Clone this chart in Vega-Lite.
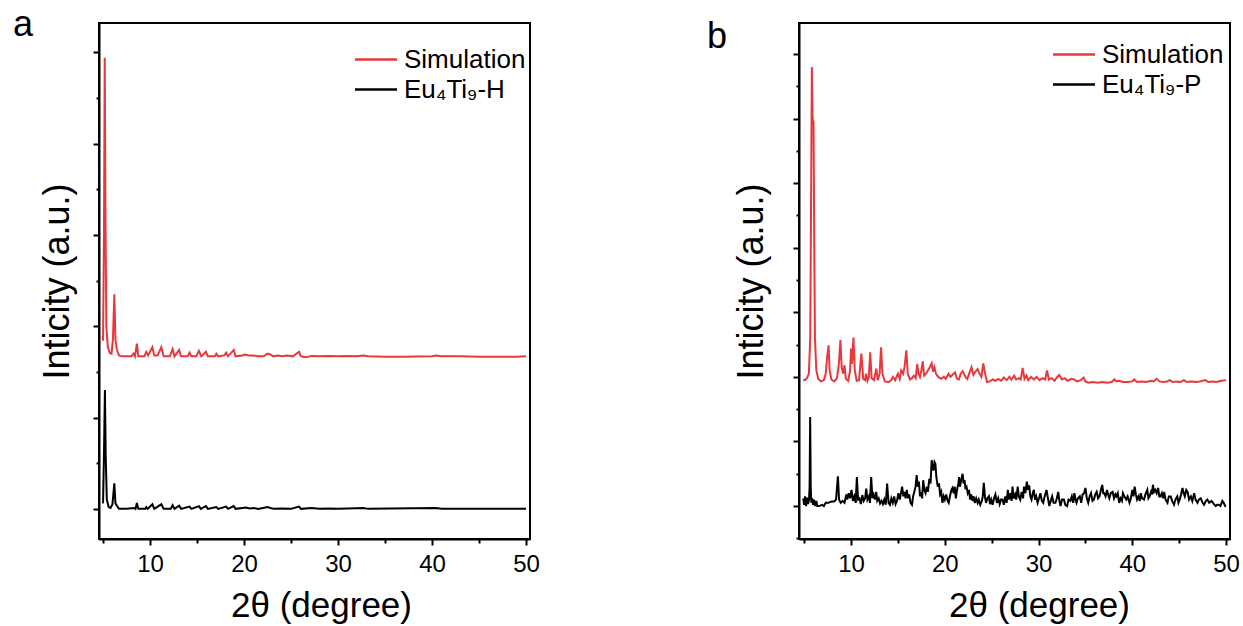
{
  "$schema": "https://vega.github.io/schema/vega-lite/v6.json",
  "padding": {"left": 12, "top": 6, "right": 0, "bottom": 0},
  "background": "white",
  "bounds": "flush",
  "spacing": 269,
  "config": {
    "font": "Liberation Sans",
    "view": {"stroke": "#000000", "strokeWidth": 2},
    "axis": {"domainColor": "#000000", "domainWidth": 2, "tickColor": "#000000", "tickWidth": 2, "grid": false, "labelColor": "#000000", "titleColor": "#000000", "labelFont": "Liberation Sans", "titleFont": "Liberation Sans", "titleFontWeight": "normal", "labelFontSize": 24, "titleFontSize": 35, "labelOverlap": false, "labelFlush": false},
    "legend": {"title": null, "orient": "none", "symbolType": "M-2.625,0H2.625", "symbolSize": 256, "symbolStrokeWidth": 2.5, "labelFontSize": 26, "labelFont": "Liberation Sans", "labelColor": "#000000", "labelOffset": 15, "rowPadding": 4, "padding": 0},
    "title": {"font": "Liberation Sans", "fontSize": 36, "fontWeight": "normal", "color": "#000000", "anchor": "start", "frame": "group", "baseline": "alphabetic"}
  },
  "datasets": {
    "panelA": [
      {"angle":5.0,"intensity":1.84,"series":"Simulation"},{"angle":5.1,"intensity":3.0,"series":"Simulation"},{"angle":5.18,"intensity":4.94,"series":"Simulation"},{"angle":5.26,"intensity":3.2,"series":"Simulation"},{"angle":5.35,"intensity":2.0,"series":"Simulation"},{"angle":5.5,"intensity":1.78,"series":"Simulation"},{"angle":5.7,"intensity":1.71,"series":"Simulation"},{"angle":5.9,"intensity":1.70,"series":"Simulation"},{"angle":6.05,"intensity":1.85,"series":"Simulation"},{"angle":6.2,"intensity":2.35,"series":"Simulation"},{"angle":6.32,"intensity":1.85,"series":"Simulation"},{"angle":6.45,"intensity":1.76,"series":"Simulation"},{"angle":6.55,"intensity":1.72,"series":"Simulation"},{"angle":6.7,"intensity":1.68,"series":"Simulation"},{"angle":7.0,"intensity":1.67,"series":"Simulation"},{"angle":7.5,"intensity":1.67,"series":"Simulation"},{"angle":8.0,"intensity":1.67,"series":"Simulation"},{"angle":8.25,"intensity":1.70,"series":"Simulation"},{"angle":8.4,"intensity":1.67,"series":"Simulation"},{"angle":8.6,"intensity":1.81,"series":"Simulation"},{"angle":8.75,"intensity":1.67,"series":"Simulation"},{"angle":9.4,"intensity":1.67,"series":"Simulation"},{"angle":9.6,"intensity":1.72,"series":"Simulation"},{"angle":9.8,"intensity":1.68,"series":"Simulation"},{"angle":10.25,"intensity":1.77,"series":"Simulation"},{"angle":10.45,"intensity":1.68,"series":"Simulation"},{"angle":10.8,"intensity":1.68,"series":"Simulation"},{"angle":11.2,"intensity":1.77,"series":"Simulation"},{"angle":11.45,"intensity":1.67,"series":"Simulation"},{"angle":12.1,"intensity":1.67,"series":"Simulation"},{"angle":12.4,"intensity":1.75,"series":"Simulation"},{"angle":12.6,"intensity":1.67,"series":"Simulation"},{"angle":13.1,"intensity":1.74,"series":"Simulation"},{"angle":13.3,"intensity":1.67,"series":"Simulation"},{"angle":14.0,"intensity":1.67,"series":"Simulation"},{"angle":14.2,"intensity":1.71,"series":"Simulation"},{"angle":14.4,"intensity":1.67,"series":"Simulation"},{"angle":14.9,"intensity":1.67,"series":"Simulation"},{"angle":15.2,"intensity":1.73,"series":"Simulation"},{"angle":15.45,"intensity":1.67,"series":"Simulation"},{"angle":15.95,"intensity":1.72,"series":"Simulation"},{"angle":16.15,"intensity":1.67,"series":"Simulation"},{"angle":16.9,"intensity":1.67,"series":"Simulation"},{"angle":17.05,"intensity":1.70,"series":"Simulation"},{"angle":17.25,"intensity":1.67,"series":"Simulation"},{"angle":17.9,"intensity":1.68,"series":"Simulation"},{"angle":18.1,"intensity":1.71,"series":"Simulation"},{"angle":18.3,"intensity":1.67,"series":"Simulation"},{"angle":18.9,"intensity":1.74,"series":"Simulation"},{"angle":19.1,"intensity":1.67,"series":"Simulation"},{"angle":19.8,"intensity":1.68,"series":"Simulation"},{"angle":20.1,"intensity":1.69,"series":"Simulation"},{"angle":20.5,"intensity":1.68,"series":"Simulation"},{"angle":21.0,"intensity":1.68,"series":"Simulation"},{"angle":21.5,"intensity":1.67,"series":"Simulation"},{"angle":22.1,"intensity":1.67,"series":"Simulation"},{"angle":22.5,"intensity":1.70,"series":"Simulation"},{"angle":22.8,"intensity":1.69,"series":"Simulation"},{"angle":23.1,"intensity":1.67,"series":"Simulation"},{"angle":23.6,"intensity":1.68,"series":"Simulation"},{"angle":24.1,"intensity":1.67,"series":"Simulation"},{"angle":24.6,"intensity":1.68,"series":"Simulation"},{"angle":25.2,"intensity":1.67,"series":"Simulation"},{"angle":25.85,"intensity":1.72,"series":"Simulation"},{"angle":26.05,"intensity":1.67,"series":"Simulation"},{"angle":26.6,"intensity":1.66,"series":"Simulation"},{"angle":27.2,"intensity":1.675,"series":"Simulation"},{"angle":28.0,"intensity":1.67,"series":"Simulation"},{"angle":29.0,"intensity":1.675,"series":"Simulation"},{"angle":30.0,"intensity":1.67,"series":"Simulation"},{"angle":31.0,"intensity":1.675,"series":"Simulation"},{"angle":32.0,"intensity":1.67,"series":"Simulation"},{"angle":32.7,"intensity":1.68,"series":"Simulation"},{"angle":33.2,"intensity":1.67,"series":"Simulation"},{"angle":35.0,"intensity":1.665,"series":"Simulation"},{"angle":37.0,"intensity":1.665,"series":"Simulation"},{"angle":40.0,"intensity":1.67,"series":"Simulation"},{"angle":40.4,"intensity":1.68,"series":"Simulation"},{"angle":41.0,"intensity":1.67,"series":"Simulation"},{"angle":43.0,"intensity":1.67,"series":"Simulation"},{"angle":45.0,"intensity":1.665,"series":"Simulation"},{"angle":47.0,"intensity":1.665,"series":"Simulation"},{"angle":49.0,"intensity":1.665,"series":"Simulation"},{"angle":50.0,"intensity":1.67,"series":"Simulation"},
      {"angle":5.0,"intensity":0.06,"series":"Eu₄Ti₉-H"},{"angle":5.1,"intensity":0.6,"series":"Eu₄Ti₉-H"},{"angle":5.2,"intensity":1.30,"series":"Eu₄Ti₉-H"},{"angle":5.28,"intensity":0.6,"series":"Eu₄Ti₉-H"},{"angle":5.4,"intensity":0.1,"series":"Eu₄Ti₉-H"},{"angle":5.6,"intensity":0.02,"series":"Eu₄Ti₉-H"},{"angle":5.8,"intensity":0.01,"series":"Eu₄Ti₉-H"},{"angle":6.0,"intensity":0.05,"series":"Eu₄Ti₉-H"},{"angle":6.2,"intensity":0.28,"series":"Eu₄Ti₉-H"},{"angle":6.32,"intensity":0.06,"series":"Eu₄Ti₉-H"},{"angle":6.5,"intensity":0.03,"series":"Eu₄Ti₉-H"},{"angle":6.7,"intensity":0.0,"series":"Eu₄Ti₉-H"},{"angle":7.5,"intensity":0.0,"series":"Eu₄Ti₉-H"},{"angle":8.3,"intensity":0.01,"series":"Eu₄Ti₉-H"},{"angle":8.45,"intensity":0.0,"series":"Eu₄Ti₉-H"},{"angle":8.6,"intensity":0.065,"series":"Eu₄Ti₉-H"},{"angle":8.75,"intensity":0.0,"series":"Eu₄Ti₉-H"},{"angle":9.5,"intensity":0.0,"series":"Eu₄Ti₉-H"},{"angle":9.6,"intensity":0.02,"series":"Eu₄Ti₉-H"},{"angle":9.75,"intensity":0.0,"series":"Eu₄Ti₉-H"},{"angle":10.25,"intensity":0.05,"series":"Eu₄Ti₉-H"},{"angle":10.45,"intensity":0.0,"series":"Eu₄Ti₉-H"},{"angle":11.2,"intensity":0.05,"series":"Eu₄Ti₉-H"},{"angle":11.45,"intensity":0.0,"series":"Eu₄Ti₉-H"},{"angle":12.2,"intensity":0.0,"series":"Eu₄Ti₉-H"},{"angle":12.4,"intensity":0.04,"series":"Eu₄Ti₉-H"},{"angle":12.6,"intensity":0.0,"series":"Eu₄Ti₉-H"},{"angle":13.1,"intensity":0.035,"series":"Eu₄Ti₉-H"},{"angle":13.3,"intensity":0.0,"series":"Eu₄Ti₉-H"},{"angle":14.2,"intensity":0.025,"series":"Eu₄Ti₉-H"},{"angle":14.4,"intensity":0.0,"series":"Eu₄Ti₉-H"},{"angle":15.2,"intensity":0.03,"series":"Eu₄Ti₉-H"},{"angle":15.4,"intensity":0.0,"series":"Eu₄Ti₉-H"},{"angle":15.95,"intensity":0.03,"series":"Eu₄Ti₉-H"},{"angle":16.15,"intensity":0.0,"series":"Eu₄Ti₉-H"},{"angle":17.05,"intensity":0.02,"series":"Eu₄Ti₉-H"},{"angle":17.25,"intensity":0.0,"series":"Eu₄Ti₉-H"},{"angle":18.1,"intensity":0.025,"series":"Eu₄Ti₉-H"},{"angle":18.3,"intensity":0.0,"series":"Eu₄Ti₉-H"},{"angle":18.9,"intensity":0.03,"series":"Eu₄Ti₉-H"},{"angle":19.1,"intensity":0.0,"series":"Eu₄Ti₉-H"},{"angle":19.8,"intensity":0.01,"series":"Eu₄Ti₉-H"},{"angle":20.2,"intensity":0.015,"series":"Eu₄Ti₉-H"},{"angle":20.6,"intensity":0.005,"series":"Eu₄Ti₉-H"},{"angle":21.0,"intensity":0.01,"series":"Eu₄Ti₉-H"},{"angle":21.5,"intensity":0.0,"series":"Eu₄Ti₉-H"},{"angle":22.5,"intensity":0.02,"series":"Eu₄Ti₉-H"},{"angle":22.8,"intensity":0.01,"series":"Eu₄Ti₉-H"},{"angle":23.2,"intensity":0.0,"series":"Eu₄Ti₉-H"},{"angle":24.0,"intensity":0.005,"series":"Eu₄Ti₉-H"},{"angle":25.0,"intensity":0.0,"series":"Eu₄Ti₉-H"},{"angle":25.85,"intensity":0.025,"series":"Eu₄Ti₉-H"},{"angle":26.05,"intensity":0.0,"series":"Eu₄Ti₉-H"},{"angle":27.2,"intensity":0.01,"series":"Eu₄Ti₉-H"},{"angle":28.0,"intensity":0.0,"series":"Eu₄Ti₉-H"},{"angle":29.0,"intensity":0.005,"series":"Eu₄Ti₉-H"},{"angle":30.0,"intensity":0.0,"series":"Eu₄Ti₉-H"},{"angle":31.0,"intensity":0.005,"series":"Eu₄Ti₉-H"},{"angle":32.7,"intensity":0.01,"series":"Eu₄Ti₉-H"},{"angle":33.2,"intensity":0.0,"series":"Eu₄Ti₉-H"},{"angle":40.4,"intensity":0.01,"series":"Eu₄Ti₉-H"},{"angle":41.0,"intensity":0.0,"series":"Eu₄Ti₉-H"},{"angle":50.0,"intensity":0.0,"series":"Eu₄Ti₉-H"}
    ],
    "panelB": [
      {"angle":4.9,"intensity":1.96,"series":"Simulation"},{"angle":5.1,"intensity":1.95,"series":"Simulation"},{"angle":5.3,"intensity":1.98,"series":"Simulation"},{"angle":5.5,"intensity":2.05,"series":"Simulation"},{"angle":5.65,"intensity":2.6,"series":"Simulation"},{"angle":5.75,"intensity":5.0,"series":"Simulation"},{"angle":5.82,"intensity":6.80,"series":"Simulation"},{"angle":5.9,"intensity":6.0,"series":"Simulation"},{"angle":6.0,"intensity":5.94,"series":"Simulation"},{"angle":6.08,"intensity":4.0,"series":"Simulation"},{"angle":6.15,"intensity":2.6,"series":"Simulation"},{"angle":6.3,"intensity":2.1,"series":"Simulation"},{"angle":6.5,"intensity":1.97,"series":"Simulation"},{"angle":6.8,"intensity":1.93,"series":"Simulation"},{"angle":7.1,"intensity":1.95,"series":"Simulation"},{"angle":7.3,"intensity":2.05,"series":"Simulation"},{"angle":7.45,"intensity":2.3,"series":"Simulation"},{"angle":7.6,"intensity":2.49,"series":"Simulation"},{"angle":7.72,"intensity":2.1,"series":"Simulation"},{"angle":7.9,"intensity":1.96,"series":"Simulation"},{"angle":8.2,"intensity":1.93,"series":"Simulation"},{"angle":8.5,"intensity":1.98,"series":"Simulation"},{"angle":8.7,"intensity":2.2,"series":"Simulation"},{"angle":8.87,"intensity":2.57,"series":"Simulation"},{"angle":9.0,"intensity":2.15,"series":"Simulation"},{"angle":9.15,"intensity":2.05,"series":"Simulation"},{"angle":9.3,"intensity":2.18,"series":"Simulation"},{"angle":9.45,"intensity":1.97,"series":"Simulation"},{"angle":9.7,"intensity":1.94,"series":"Simulation"},{"angle":9.9,"intensity":2.1,"series":"Simulation"},{"angle":10.0,"intensity":2.44,"series":"Simulation"},{"angle":10.1,"intensity":2.2,"series":"Simulation"},{"angle":10.26,"intensity":2.61,"series":"Simulation"},{"angle":10.4,"intensity":2.1,"series":"Simulation"},{"angle":10.6,"intensity":1.94,"series":"Simulation"},{"angle":10.85,"intensity":1.95,"series":"Simulation"},{"angle":11.1,"intensity":2.36,"series":"Simulation"},{"angle":11.3,"intensity":1.97,"series":"Simulation"},{"angle":11.5,"intensity":1.95,"series":"Simulation"},{"angle":11.6,"intensity":2.05,"series":"Simulation"},{"angle":11.75,"intensity":1.94,"series":"Simulation"},{"angle":11.9,"intensity":2.0,"series":"Simulation"},{"angle":12.04,"intensity":2.38,"series":"Simulation"},{"angle":12.2,"intensity":1.98,"series":"Simulation"},{"angle":12.45,"intensity":1.95,"series":"Simulation"},{"angle":12.7,"intensity":2.13,"series":"Simulation"},{"angle":12.85,"intensity":1.95,"series":"Simulation"},{"angle":13.05,"intensity":2.05,"series":"Simulation"},{"angle":13.2,"intensity":2.46,"series":"Simulation"},{"angle":13.35,"intensity":2.05,"series":"Simulation"},{"angle":13.6,"intensity":1.93,"series":"Simulation"},{"angle":14.0,"intensity":1.92,"series":"Simulation"},{"angle":14.3,"intensity":1.95,"series":"Simulation"},{"angle":14.46,"intensity":2.0,"series":"Simulation"},{"angle":14.7,"intensity":1.95,"series":"Simulation"},{"angle":15.0,"intensity":2.05,"series":"Simulation"},{"angle":15.2,"intensity":1.97,"series":"Simulation"},{"angle":15.35,"intensity":2.1,"series":"Simulation"},{"angle":15.55,"intensity":2.05,"series":"Simulation"},{"angle":15.7,"intensity":2.15,"series":"Simulation"},{"angle":15.9,"intensity":2.41,"series":"Simulation"},{"angle":16.05,"intensity":2.05,"series":"Simulation"},{"angle":16.3,"intensity":1.96,"series":"Simulation"},{"angle":16.5,"intensity":1.98,"series":"Simulation"},{"angle":16.7,"intensity":2.02,"series":"Simulation"},{"angle":16.9,"intensity":1.98,"series":"Simulation"},{"angle":17.05,"intensity":2.2,"series":"Simulation"},{"angle":17.2,"intensity":2.05,"series":"Simulation"},{"angle":17.35,"intensity":2.0,"series":"Simulation"},{"angle":17.5,"intensity":2.1,"series":"Simulation"},{"angle":17.65,"intensity":2.24,"series":"Simulation"},{"angle":17.8,"intensity":2.02,"series":"Simulation"},{"angle":18.0,"intensity":2.05,"series":"Simulation"},{"angle":18.2,"intensity":2.1,"series":"Simulation"},{"angle":18.4,"intensity":2.15,"series":"Simulation"},{"angle":18.6,"intensity":2.21,"series":"Simulation"},{"angle":18.75,"intensity":2.08,"series":"Simulation"},{"angle":18.9,"intensity":2.15,"series":"Simulation"},{"angle":19.05,"intensity":2.05,"series":"Simulation"},{"angle":19.3,"intensity":2.0,"series":"Simulation"},{"angle":19.6,"intensity":1.97,"series":"Simulation"},{"angle":19.9,"intensity":2.0,"series":"Simulation"},{"angle":20.1,"intensity":1.97,"series":"Simulation"},{"angle":20.4,"intensity":2.05,"series":"Simulation"},{"angle":20.6,"intensity":2.0,"series":"Simulation"},{"angle":20.8,"intensity":2.03,"series":"Simulation"},{"angle":21.1,"intensity":2.07,"series":"Simulation"},{"angle":21.3,"intensity":1.97,"series":"Simulation"},{"angle":21.5,"intensity":1.96,"series":"Simulation"},{"angle":21.7,"intensity":2.05,"series":"Simulation"},{"angle":21.9,"intensity":2.09,"series":"Simulation"},{"angle":22.2,"intensity":2.0,"series":"Simulation"},{"angle":22.4,"intensity":1.97,"series":"Simulation"},{"angle":22.6,"intensity":2.05,"series":"Simulation"},{"angle":22.85,"intensity":2.15,"series":"Simulation"},{"angle":23.05,"intensity":2.03,"series":"Simulation"},{"angle":23.25,"intensity":2.08,"series":"Simulation"},{"angle":23.5,"intensity":2.12,"series":"Simulation"},{"angle":23.7,"intensity":2.05,"series":"Simulation"},{"angle":23.9,"intensity":2.0,"series":"Simulation"},{"angle":24.1,"intensity":2.21,"series":"Simulation"},{"angle":24.3,"intensity":2.05,"series":"Simulation"},{"angle":24.5,"intensity":1.92,"series":"Simulation"},{"angle":24.8,"intensity":1.93,"series":"Simulation"},{"angle":25.1,"intensity":1.96,"series":"Simulation"},{"angle":25.4,"intensity":1.94,"series":"Simulation"},{"angle":25.7,"intensity":1.97,"series":"Simulation"},{"angle":26.0,"intensity":1.94,"series":"Simulation"},{"angle":26.3,"intensity":1.99,"series":"Simulation"},{"angle":26.6,"intensity":1.95,"series":"Simulation"},{"angle":26.9,"intensity":2.0,"series":"Simulation"},{"angle":27.1,"intensity":1.96,"series":"Simulation"},{"angle":27.4,"intensity":2.02,"series":"Simulation"},{"angle":27.6,"intensity":1.96,"series":"Simulation"},{"angle":27.9,"intensity":1.98,"series":"Simulation"},{"angle":28.1,"intensity":1.96,"series":"Simulation"},{"angle":28.3,"intensity":2.14,"series":"Simulation"},{"angle":28.5,"intensity":1.97,"series":"Simulation"},{"angle":28.7,"intensity":2.02,"series":"Simulation"},{"angle":28.9,"intensity":1.95,"series":"Simulation"},{"angle":29.2,"intensity":2.0,"series":"Simulation"},{"angle":29.5,"intensity":1.96,"series":"Simulation"},{"angle":29.8,"intensity":2.0,"series":"Simulation"},{"angle":30.1,"intensity":1.95,"series":"Simulation"},{"angle":30.4,"intensity":1.98,"series":"Simulation"},{"angle":30.7,"intensity":1.96,"series":"Simulation"},{"angle":30.9,"intensity":2.1,"series":"Simulation"},{"angle":31.1,"intensity":1.96,"series":"Simulation"},{"angle":31.4,"intensity":1.98,"series":"Simulation"},{"angle":31.7,"intensity":1.94,"series":"Simulation"},{"angle":32.0,"intensity":2.0,"series":"Simulation"},{"angle":32.2,"intensity":2.03,"series":"Simulation"},{"angle":32.5,"intensity":1.96,"series":"Simulation"},{"angle":32.8,"intensity":1.98,"series":"Simulation"},{"angle":33.1,"intensity":1.94,"series":"Simulation"},{"angle":33.5,"intensity":1.97,"series":"Simulation"},{"angle":33.8,"intensity":1.96,"series":"Simulation"},{"angle":34.1,"intensity":1.93,"series":"Simulation"},{"angle":34.5,"intensity":1.95,"series":"Simulation"},{"angle":34.8,"intensity":1.99,"series":"Simulation"},{"angle":35.0,"intensity":1.93,"series":"Simulation"},{"angle":35.3,"intensity":1.91,"series":"Simulation"},{"angle":35.8,"intensity":1.92,"series":"Simulation"},{"angle":36.3,"intensity":1.91,"series":"Simulation"},{"angle":36.8,"intensity":1.92,"series":"Simulation"},{"angle":37.3,"intensity":1.91,"series":"Simulation"},{"angle":37.8,"intensity":1.92,"series":"Simulation"},{"angle":38.1,"intensity":1.96,"series":"Simulation"},{"angle":38.3,"intensity":1.93,"series":"Simulation"},{"angle":38.6,"intensity":1.94,"series":"Simulation"},{"angle":39.0,"intensity":1.92,"series":"Simulation"},{"angle":39.5,"intensity":1.92,"series":"Simulation"},{"angle":40.0,"intensity":1.93,"series":"Simulation"},{"angle":40.2,"intensity":1.96,"series":"Simulation"},{"angle":40.5,"intensity":1.92,"series":"Simulation"},{"angle":41.0,"intensity":1.93,"series":"Simulation"},{"angle":41.5,"intensity":1.92,"series":"Simulation"},{"angle":42.0,"intensity":1.94,"series":"Simulation"},{"angle":42.3,"intensity":1.93,"series":"Simulation"},{"angle":42.6,"intensity":1.97,"series":"Simulation"},{"angle":42.9,"intensity":1.93,"series":"Simulation"},{"angle":43.3,"intensity":1.92,"series":"Simulation"},{"angle":43.7,"intensity":1.93,"series":"Simulation"},{"angle":44.0,"intensity":1.95,"series":"Simulation"},{"angle":44.3,"intensity":1.92,"series":"Simulation"},{"angle":44.8,"intensity":1.93,"series":"Simulation"},{"angle":45.1,"intensity":1.92,"series":"Simulation"},{"angle":45.5,"intensity":1.95,"series":"Simulation"},{"angle":45.8,"intensity":1.92,"series":"Simulation"},{"angle":46.3,"intensity":1.93,"series":"Simulation"},{"angle":46.8,"intensity":1.92,"series":"Simulation"},{"angle":47.2,"intensity":1.93,"series":"Simulation"},{"angle":47.8,"intensity":1.95,"series":"Simulation"},{"angle":48.1,"intensity":1.92,"series":"Simulation"},{"angle":48.6,"intensity":1.93,"series":"Simulation"},{"angle":49.0,"intensity":1.92,"series":"Simulation"},{"angle":49.5,"intensity":1.94,"series":"Simulation"},{"angle":50.0,"intensity":1.95,"series":"Simulation"},
      {"angle":4.9,"intensity":0.12,"series":"Eu₄Ti₉-P"},{"angle":5.0,"intensity":0.02,"series":"Eu₄Ti₉-P"},{"angle":5.1,"intensity":0.15,"series":"Eu₄Ti₉-P"},{"angle":5.2,"intensity":0.0,"series":"Eu₄Ti₉-P"},{"angle":5.3,"intensity":0.13,"series":"Eu₄Ti₉-P"},{"angle":5.42,"intensity":0.03,"series":"Eu₄Ti₉-P"},{"angle":5.52,"intensity":0.1,"series":"Eu₄Ti₉-P"},{"angle":5.58,"intensity":0.3,"series":"Eu₄Ti₉-P"},{"angle":5.64,"intensity":1.38,"series":"Eu₄Ti₉-P"},{"angle":5.7,"intensity":0.3,"series":"Eu₄Ti₉-P"},{"angle":5.76,"intensity":0.05,"series":"Eu₄Ti₉-P"},{"angle":5.85,"intensity":0.12,"series":"Eu₄Ti₉-P"},{"angle":5.95,"intensity":0.02,"series":"Eu₄Ti₉-P"},{"angle":6.05,"intensity":0.1,"series":"Eu₄Ti₉-P"},{"angle":6.15,"intensity":0.0,"series":"Eu₄Ti₉-P"},{"angle":6.3,"intensity":0.08,"series":"Eu₄Ti₉-P"},{"angle":6.4,"intensity":0.0,"series":"Eu₄Ti₉-P"},{"angle":6.6,"intensity":0.0,"series":"Eu₄Ti₉-P"},{"angle":6.9,"intensity":0.02,"series":"Eu₄Ti₉-P"},{"angle":7.1,"intensity":0.0,"series":"Eu₄Ti₉-P"},{"angle":7.3,"intensity":0.05,"series":"Eu₄Ti₉-P"},{"angle":7.6,"intensity":0.05,"series":"Eu₄Ti₉-P"},{"angle":7.9,"intensity":0.07,"series":"Eu₄Ti₉-P"},{"angle":8.2,"intensity":0.07,"series":"Eu₄Ti₉-P"},{"angle":8.4,"intensity":0.1,"series":"Eu₄Ti₉-P"},{"angle":8.6,"intensity":0.46,"series":"Eu₄Ti₉-P"},{"angle":8.72,"intensity":0.1,"series":"Eu₄Ti₉-P"},{"angle":8.9,"intensity":0.05,"series":"Eu₄Ti₉-P"},{"angle":9.1,"intensity":0.08,"series":"Eu₄Ti₉-P"},{"angle":9.3,"intensity":0.05,"series":"Eu₄Ti₉-P"},{"angle":9.5,"intensity":0.18,"series":"Eu₄Ti₉-P"},{"angle":9.6,"intensity":0.1,"series":"Eu₄Ti₉-P"},{"angle":9.75,"intensity":0.2,"series":"Eu₄Ti₉-P"},{"angle":9.9,"intensity":0.12,"series":"Eu₄Ti₉-P"},{"angle":10.05,"intensity":0.25,"series":"Eu₄Ti₉-P"},{"angle":10.2,"intensity":0.08,"series":"Eu₄Ti₉-P"},{"angle":10.35,"intensity":0.15,"series":"Eu₄Ti₉-P"},{"angle":10.5,"intensity":0.05,"series":"Eu₄Ti₉-P"},{"angle":10.62,"intensity":0.45,"series":"Eu₄Ti₉-P"},{"angle":10.75,"intensity":0.1,"series":"Eu₄Ti₉-P"},{"angle":10.9,"intensity":0.12,"series":"Eu₄Ti₉-P"},{"angle":11.05,"intensity":0.03,"series":"Eu₄Ti₉-P"},{"angle":11.2,"intensity":0.17,"series":"Eu₄Ti₉-P"},{"angle":11.35,"intensity":0.08,"series":"Eu₄Ti₉-P"},{"angle":11.5,"intensity":0.12,"series":"Eu₄Ti₉-P"},{"angle":11.62,"intensity":0.27,"series":"Eu₄Ti₉-P"},{"angle":11.75,"intensity":0.1,"series":"Eu₄Ti₉-P"},{"angle":11.9,"intensity":0.15,"series":"Eu₄Ti₉-P"},{"angle":12.02,"intensity":0.05,"series":"Eu₄Ti₉-P"},{"angle":12.15,"intensity":0.45,"series":"Eu₄Ti₉-P"},{"angle":12.28,"intensity":0.12,"series":"Eu₄Ti₉-P"},{"angle":12.4,"intensity":0.18,"series":"Eu₄Ti₉-P"},{"angle":12.55,"intensity":0.1,"series":"Eu₄Ti₉-P"},{"angle":12.68,"intensity":0.22,"series":"Eu₄Ti₉-P"},{"angle":12.8,"intensity":0.08,"series":"Eu₄Ti₉-P"},{"angle":12.95,"intensity":0.12,"series":"Eu₄Ti₉-P"},{"angle":13.1,"intensity":0.04,"series":"Eu₄Ti₉-P"},{"angle":13.25,"intensity":0.08,"series":"Eu₄Ti₉-P"},{"angle":13.4,"intensity":0.03,"series":"Eu₄Ti₉-P"},{"angle":13.55,"intensity":0.1,"series":"Eu₄Ti₉-P"},{"angle":13.7,"intensity":0.02,"series":"Eu₄Ti₉-P"},{"angle":13.85,"intensity":0.35,"series":"Eu₄Ti₉-P"},{"angle":14.0,"intensity":0.05,"series":"Eu₄Ti₉-P"},{"angle":14.15,"intensity":0.02,"series":"Eu₄Ti₉-P"},{"angle":14.3,"intensity":0.12,"series":"Eu₄Ti₉-P"},{"angle":14.45,"intensity":0.05,"series":"Eu₄Ti₉-P"},{"angle":14.6,"intensity":0.15,"series":"Eu₄Ti₉-P"},{"angle":14.75,"intensity":0.03,"series":"Eu₄Ti₉-P"},{"angle":14.9,"intensity":0.08,"series":"Eu₄Ti₉-P"},{"angle":15.05,"intensity":0.2,"series":"Eu₄Ti₉-P"},{"angle":15.2,"intensity":0.1,"series":"Eu₄Ti₉-P"},{"angle":15.3,"intensity":0.18,"series":"Eu₄Ti₉-P"},{"angle":15.45,"intensity":0.3,"series":"Eu₄Ti₉-P"},{"angle":15.58,"intensity":0.15,"series":"Eu₄Ti₉-P"},{"angle":15.7,"intensity":0.22,"series":"Eu₄Ti₉-P"},{"angle":15.82,"intensity":0.12,"series":"Eu₄Ti₉-P"},{"angle":15.95,"intensity":0.25,"series":"Eu₄Ti₉-P"},{"angle":16.08,"intensity":0.12,"series":"Eu₄Ti₉-P"},{"angle":16.2,"intensity":0.18,"series":"Eu₄Ti₉-P"},{"angle":16.35,"intensity":0.05,"series":"Eu₄Ti₉-P"},{"angle":16.5,"intensity":0.02,"series":"Eu₄Ti₉-P"},{"angle":16.62,"intensity":0.15,"series":"Eu₄Ti₉-P"},{"angle":16.75,"intensity":0.22,"series":"Eu₄Ti₉-P"},{"angle":16.88,"intensity":0.3,"series":"Eu₄Ti₉-P"},{"angle":17.0,"intensity":0.48,"series":"Eu₄Ti₉-P"},{"angle":17.12,"intensity":0.3,"series":"Eu₄Ti₉-P"},{"angle":17.24,"intensity":0.38,"series":"Eu₄Ti₉-P"},{"angle":17.36,"intensity":0.15,"series":"Eu₄Ti₉-P"},{"angle":17.48,"intensity":0.22,"series":"Eu₄Ti₉-P"},{"angle":17.58,"intensity":0.12,"series":"Eu₄Ti₉-P"},{"angle":17.7,"intensity":0.4,"series":"Eu₄Ti₉-P"},{"angle":17.82,"intensity":0.25,"series":"Eu₄Ti₉-P"},{"angle":17.95,"intensity":0.2,"series":"Eu₄Ti₉-P"},{"angle":18.08,"intensity":0.3,"series":"Eu₄Ti₉-P"},{"angle":18.2,"intensity":0.22,"series":"Eu₄Ti₉-P"},{"angle":18.35,"intensity":0.42,"series":"Eu₄Ti₉-P"},{"angle":18.48,"intensity":0.35,"series":"Eu₄Ti₉-P"},{"angle":18.6,"intensity":0.71,"series":"Eu₄Ti₉-P"},{"angle":18.7,"intensity":0.6,"series":"Eu₄Ti₉-P"},{"angle":18.8,"intensity":0.55,"series":"Eu₄Ti₉-P"},{"angle":18.9,"intensity":0.68,"series":"Eu₄Ti₉-P"},{"angle":19.0,"intensity":0.65,"series":"Eu₄Ti₉-P"},{"angle":19.1,"intensity":0.45,"series":"Eu₄Ti₉-P"},{"angle":19.25,"intensity":0.3,"series":"Eu₄Ti₉-P"},{"angle":19.38,"intensity":0.35,"series":"Eu₄Ti₉-P"},{"angle":19.5,"intensity":0.18,"series":"Eu₄Ti₉-P"},{"angle":19.62,"intensity":0.22,"series":"Eu₄Ti₉-P"},{"angle":19.75,"intensity":0.05,"series":"Eu₄Ti₉-P"},{"angle":19.88,"intensity":0.15,"series":"Eu₄Ti₉-P"},{"angle":20.0,"intensity":0.1,"series":"Eu₄Ti₉-P"},{"angle":20.15,"intensity":0.18,"series":"Eu₄Ti₉-P"},{"angle":20.3,"intensity":0.08,"series":"Eu₄Ti₉-P"},{"angle":20.42,"intensity":0.05,"series":"Eu₄Ti₉-P"},{"angle":20.55,"intensity":0.15,"series":"Eu₄Ti₉-P"},{"angle":20.7,"intensity":0.25,"series":"Eu₄Ti₉-P"},{"angle":20.82,"intensity":0.28,"series":"Eu₄Ti₉-P"},{"angle":20.95,"intensity":0.2,"series":"Eu₄Ti₉-P"},{"angle":21.05,"intensity":0.3,"series":"Eu₄Ti₉-P"},{"angle":21.18,"intensity":0.12,"series":"Eu₄Ti₉-P"},{"angle":21.3,"intensity":0.25,"series":"Eu₄Ti₉-P"},{"angle":21.45,"intensity":0.35,"series":"Eu₄Ti₉-P"},{"angle":21.52,"intensity":0.45,"series":"Eu₄Ti₉-P"},{"angle":21.62,"intensity":0.3,"series":"Eu₄Ti₉-P"},{"angle":21.75,"intensity":0.4,"series":"Eu₄Ti₉-P"},{"angle":21.9,"intensity":0.5,"series":"Eu₄Ti₉-P"},{"angle":22.0,"intensity":0.35,"series":"Eu₄Ti₉-P"},{"angle":22.1,"intensity":0.4,"series":"Eu₄Ti₉-P"},{"angle":22.2,"intensity":0.28,"series":"Eu₄Ti₉-P"},{"angle":22.32,"intensity":0.3,"series":"Eu₄Ti₉-P"},{"angle":22.45,"intensity":0.2,"series":"Eu₄Ti₉-P"},{"angle":22.58,"intensity":0.25,"series":"Eu₄Ti₉-P"},{"angle":22.7,"intensity":0.1,"series":"Eu₄Ti₉-P"},{"angle":22.82,"intensity":0.18,"series":"Eu₄Ti₉-P"},{"angle":22.95,"intensity":0.08,"series":"Eu₄Ti₉-P"},{"angle":23.08,"intensity":0.15,"series":"Eu₄Ti₉-P"},{"angle":23.2,"intensity":0.05,"series":"Eu₄Ti₉-P"},{"angle":23.35,"intensity":0.12,"series":"Eu₄Ti₉-P"},{"angle":23.5,"intensity":0.05,"series":"Eu₄Ti₉-P"},{"angle":23.62,"intensity":0.1,"series":"Eu₄Ti₉-P"},{"angle":23.78,"intensity":0.02,"series":"Eu₄Ti₉-P"},{"angle":23.95,"intensity":0.08,"series":"Eu₄Ti₉-P"},{"angle":24.05,"intensity":0.15,"series":"Eu₄Ti₉-P"},{"angle":24.16,"intensity":0.36,"series":"Eu₄Ti₉-P"},{"angle":24.28,"intensity":0.15,"series":"Eu₄Ti₉-P"},{"angle":24.4,"intensity":0.05,"series":"Eu₄Ti₉-P"},{"angle":24.55,"intensity":0.12,"series":"Eu₄Ti₉-P"},{"angle":24.7,"intensity":0.15,"series":"Eu₄Ti₉-P"},{"angle":24.82,"intensity":0.03,"series":"Eu₄Ti₉-P"},{"angle":24.95,"intensity":0.1,"series":"Eu₄Ti₉-P"},{"angle":25.1,"intensity":0.02,"series":"Eu₄Ti₉-P"},{"angle":25.25,"intensity":0.12,"series":"Eu₄Ti₉-P"},{"angle":25.4,"intensity":0.18,"series":"Eu₄Ti₉-P"},{"angle":25.55,"intensity":0.05,"series":"Eu₄Ti₉-P"},{"angle":25.7,"intensity":0.12,"series":"Eu₄Ti₉-P"},{"angle":25.85,"intensity":0.03,"series":"Eu₄Ti₉-P"},{"angle":26.0,"intensity":0.1,"series":"Eu₄Ti₉-P"},{"angle":26.15,"intensity":0.1,"series":"Eu₄Ti₉-P"},{"angle":26.3,"intensity":0.02,"series":"Eu₄Ti₉-P"},{"angle":26.45,"intensity":0.15,"series":"Eu₄Ti₉-P"},{"angle":26.6,"intensity":0.05,"series":"Eu₄Ti₉-P"},{"angle":26.72,"intensity":0.25,"series":"Eu₄Ti₉-P"},{"angle":26.85,"intensity":0.1,"series":"Eu₄Ti₉-P"},{"angle":27.0,"intensity":0.2,"series":"Eu₄Ti₉-P"},{"angle":27.12,"intensity":0.08,"series":"Eu₄Ti₉-P"},{"angle":27.22,"intensity":0.3,"series":"Eu₄Ti₉-P"},{"angle":27.35,"intensity":0.12,"series":"Eu₄Ti₉-P"},{"angle":27.5,"intensity":0.18,"series":"Eu₄Ti₉-P"},{"angle":27.62,"intensity":0.1,"series":"Eu₄Ti₉-P"},{"angle":27.78,"intensity":0.3,"series":"Eu₄Ti₉-P"},{"angle":27.9,"intensity":0.15,"series":"Eu₄Ti₉-P"},{"angle":28.05,"intensity":0.1,"series":"Eu₄Ti₉-P"},{"angle":28.2,"intensity":0.22,"series":"Eu₄Ti₉-P"},{"angle":28.35,"intensity":0.12,"series":"Eu₄Ti₉-P"},{"angle":28.45,"intensity":0.3,"series":"Eu₄Ti₉-P"},{"angle":28.6,"intensity":0.2,"series":"Eu₄Ti₉-P"},{"angle":28.75,"intensity":0.38,"series":"Eu₄Ti₉-P"},{"angle":28.88,"intensity":0.25,"series":"Eu₄Ti₉-P"},{"angle":29.0,"intensity":0.32,"series":"Eu₄Ti₉-P"},{"angle":29.12,"intensity":0.15,"series":"Eu₄Ti₉-P"},{"angle":29.25,"intensity":0.1,"series":"Eu₄Ti₉-P"},{"angle":29.38,"intensity":0.2,"series":"Eu₄Ti₉-P"},{"angle":29.5,"intensity":0.25,"series":"Eu₄Ti₉-P"},{"angle":29.62,"intensity":0.1,"series":"Eu₄Ti₉-P"},{"angle":29.75,"intensity":0.15,"series":"Eu₄Ti₉-P"},{"angle":29.9,"intensity":0.05,"series":"Eu₄Ti₉-P"},{"angle":30.05,"intensity":0.12,"series":"Eu₄Ti₉-P"},{"angle":30.2,"intensity":0.2,"series":"Eu₄Ti₉-P"},{"angle":30.35,"intensity":0.08,"series":"Eu₄Ti₉-P"},{"angle":30.5,"intensity":0.05,"series":"Eu₄Ti₉-P"},{"angle":30.65,"intensity":0.15,"series":"Eu₄Ti₉-P"},{"angle":30.85,"intensity":0.25,"series":"Eu₄Ti₉-P"},{"angle":31.0,"intensity":0.12,"series":"Eu₄Ti₉-P"},{"angle":31.15,"intensity":0.0,"series":"Eu₄Ti₉-P"},{"angle":31.3,"intensity":0.08,"series":"Eu₄Ti₉-P"},{"angle":31.45,"intensity":0.15,"series":"Eu₄Ti₉-P"},{"angle":31.6,"intensity":0.05,"series":"Eu₄Ti₉-P"},{"angle":31.8,"intensity":0.05,"series":"Eu₄Ti₉-P"},{"angle":31.95,"intensity":0.12,"series":"Eu₄Ti₉-P"},{"angle":32.1,"intensity":0.22,"series":"Eu₄Ti₉-P"},{"angle":32.22,"intensity":0.08,"series":"Eu₄Ti₉-P"},{"angle":32.35,"intensity":0.0,"series":"Eu₄Ti₉-P"},{"angle":32.5,"intensity":0.1,"series":"Eu₄Ti₉-P"},{"angle":32.7,"intensity":0.1,"series":"Eu₄Ti₉-P"},{"angle":32.85,"intensity":0.02,"series":"Eu₄Ti₉-P"},{"angle":33.05,"intensity":0.0,"series":"Eu₄Ti₉-P"},{"angle":33.2,"intensity":0.1,"series":"Eu₄Ti₉-P"},{"angle":33.4,"intensity":0.08,"series":"Eu₄Ti₉-P"},{"angle":33.55,"intensity":0.15,"series":"Eu₄Ti₉-P"},{"angle":33.7,"intensity":0.05,"series":"Eu₄Ti₉-P"},{"angle":33.82,"intensity":0.2,"series":"Eu₄Ti₉-P"},{"angle":33.95,"intensity":0.1,"series":"Eu₄Ti₉-P"},{"angle":34.05,"intensity":0.05,"series":"Eu₄Ti₉-P"},{"angle":34.2,"intensity":0.12,"series":"Eu₄Ti₉-P"},{"angle":34.4,"intensity":0.15,"series":"Eu₄Ti₉-P"},{"angle":34.55,"intensity":0.05,"series":"Eu₄Ti₉-P"},{"angle":34.7,"intensity":0.18,"series":"Eu₄Ti₉-P"},{"angle":34.85,"intensity":0.2,"series":"Eu₄Ti₉-P"},{"angle":35.0,"intensity":0.28,"series":"Eu₄Ti₉-P"},{"angle":35.15,"intensity":0.12,"series":"Eu₄Ti₉-P"},{"angle":35.3,"intensity":0.05,"series":"Eu₄Ti₉-P"},{"angle":35.45,"intensity":0.15,"series":"Eu₄Ti₉-P"},{"angle":35.6,"intensity":0.2,"series":"Eu₄Ti₉-P"},{"angle":35.75,"intensity":0.08,"series":"Eu₄Ti₉-P"},{"angle":35.9,"intensity":0.1,"series":"Eu₄Ti₉-P"},{"angle":36.05,"intensity":0.18,"series":"Eu₄Ti₉-P"},{"angle":36.2,"intensity":0.22,"series":"Eu₄Ti₉-P"},{"angle":36.35,"intensity":0.12,"series":"Eu₄Ti₉-P"},{"angle":36.5,"intensity":0.15,"series":"Eu₄Ti₉-P"},{"angle":36.65,"intensity":0.25,"series":"Eu₄Ti₉-P"},{"angle":36.8,"intensity":0.33,"series":"Eu₄Ti₉-P"},{"angle":36.9,"intensity":0.2,"series":"Eu₄Ti₉-P"},{"angle":37.0,"intensity":0.2,"series":"Eu₄Ti₉-P"},{"angle":37.15,"intensity":0.15,"series":"Eu₄Ti₉-P"},{"angle":37.3,"intensity":0.25,"series":"Eu₄Ti₉-P"},{"angle":37.42,"intensity":0.18,"series":"Eu₄Ti₉-P"},{"angle":37.55,"intensity":0.12,"series":"Eu₄Ti₉-P"},{"angle":37.7,"intensity":0.2,"series":"Eu₄Ti₉-P"},{"angle":37.9,"intensity":0.22,"series":"Eu₄Ti₉-P"},{"angle":38.05,"intensity":0.12,"series":"Eu₄Ti₉-P"},{"angle":38.2,"intensity":0.18,"series":"Eu₄Ti₉-P"},{"angle":38.3,"intensity":0.15,"series":"Eu₄Ti₉-P"},{"angle":38.45,"intensity":0.2,"series":"Eu₄Ti₉-P"},{"angle":38.6,"intensity":0.05,"series":"Eu₄Ti₉-P"},{"angle":38.75,"intensity":0.12,"series":"Eu₄Ti₉-P"},{"angle":38.9,"intensity":0.08,"series":"Eu₄Ti₉-P"},{"angle":39.0,"intensity":0.2,"series":"Eu₄Ti₉-P"},{"angle":39.15,"intensity":0.15,"series":"Eu₄Ti₉-P"},{"angle":39.35,"intensity":0.1,"series":"Eu₄Ti₉-P"},{"angle":39.5,"intensity":0.15,"series":"Eu₄Ti₉-P"},{"angle":39.7,"intensity":0.05,"series":"Eu₄Ti₉-P"},{"angle":39.85,"intensity":0.12,"series":"Eu₄Ti₉-P"},{"angle":40.0,"intensity":0.25,"series":"Eu₄Ti₉-P"},{"angle":40.12,"intensity":0.15,"series":"Eu₄Ti₉-P"},{"angle":40.25,"intensity":0.3,"series":"Eu₄Ti₉-P"},{"angle":40.38,"intensity":0.18,"series":"Eu₄Ti₉-P"},{"angle":40.5,"intensity":0.1,"series":"Eu₄Ti₉-P"},{"angle":40.65,"intensity":0.15,"series":"Eu₄Ti₉-P"},{"angle":40.8,"intensity":0.08,"series":"Eu₄Ti₉-P"},{"angle":40.9,"intensity":0.2,"series":"Eu₄Ti₉-P"},{"angle":41.05,"intensity":0.12,"series":"Eu₄Ti₉-P"},{"angle":41.25,"intensity":0.1,"series":"Eu₄Ti₉-P"},{"angle":41.4,"intensity":0.18,"series":"Eu₄Ti₉-P"},{"angle":41.6,"intensity":0.25,"series":"Eu₄Ti₉-P"},{"angle":41.72,"intensity":0.12,"series":"Eu₄Ti₉-P"},{"angle":41.85,"intensity":0.15,"series":"Eu₄Ti₉-P"},{"angle":42.0,"intensity":0.22,"series":"Eu₄Ti₉-P"},{"angle":42.1,"intensity":0.18,"series":"Eu₄Ti₉-P"},{"angle":42.2,"intensity":0.33,"series":"Eu₄Ti₉-P"},{"angle":42.32,"intensity":0.22,"series":"Eu₄Ti₉-P"},{"angle":42.45,"intensity":0.25,"series":"Eu₄Ti₉-P"},{"angle":42.6,"intensity":0.2,"series":"Eu₄Ti₉-P"},{"angle":42.75,"intensity":0.28,"series":"Eu₄Ti₉-P"},{"angle":42.88,"intensity":0.15,"series":"Eu₄Ti₉-P"},{"angle":43.0,"intensity":0.15,"series":"Eu₄Ti₉-P"},{"angle":43.15,"intensity":0.2,"series":"Eu₄Ti₉-P"},{"angle":43.28,"intensity":0.12,"series":"Eu₄Ti₉-P"},{"angle":43.4,"intensity":0.22,"series":"Eu₄Ti₉-P"},{"angle":43.55,"intensity":0.1,"series":"Eu₄Ti₉-P"},{"angle":43.75,"intensity":0.05,"series":"Eu₄Ti₉-P"},{"angle":43.9,"intensity":0.15,"series":"Eu₄Ti₉-P"},{"angle":44.1,"intensity":0.15,"series":"Eu₄Ti₉-P"},{"angle":44.25,"intensity":0.08,"series":"Eu₄Ti₉-P"},{"angle":44.45,"intensity":0.02,"series":"Eu₄Ti₉-P"},{"angle":44.6,"intensity":0.1,"series":"Eu₄Ti₉-P"},{"angle":44.8,"intensity":0.15,"series":"Eu₄Ti₉-P"},{"angle":44.92,"intensity":0.05,"series":"Eu₄Ti₉-P"},{"angle":45.05,"intensity":0.1,"series":"Eu₄Ti₉-P"},{"angle":45.2,"intensity":0.18,"series":"Eu₄Ti₉-P"},{"angle":45.35,"intensity":0.28,"series":"Eu₄Ti₉-P"},{"angle":45.48,"intensity":0.2,"series":"Eu₄Ti₉-P"},{"angle":45.6,"intensity":0.15,"series":"Eu₄Ti₉-P"},{"angle":45.75,"intensity":0.25,"series":"Eu₄Ti₉-P"},{"angle":45.9,"intensity":0.22,"series":"Eu₄Ti₉-P"},{"angle":46.05,"intensity":0.1,"series":"Eu₄Ti₉-P"},{"angle":46.25,"intensity":0.15,"series":"Eu₄Ti₉-P"},{"angle":46.4,"intensity":0.08,"series":"Eu₄Ti₉-P"},{"angle":46.6,"intensity":0.2,"series":"Eu₄Ti₉-P"},{"angle":46.75,"intensity":0.1,"series":"Eu₄Ti₉-P"},{"angle":46.95,"intensity":0.05,"series":"Eu₄Ti₉-P"},{"angle":47.1,"intensity":0.1,"series":"Eu₄Ti₉-P"},{"angle":47.3,"intensity":0.12,"series":"Eu₄Ti₉-P"},{"angle":47.5,"intensity":0.05,"series":"Eu₄Ti₉-P"},{"angle":47.65,"intensity":0.02,"series":"Eu₄Ti₉-P"},{"angle":47.85,"intensity":0.08,"series":"Eu₄Ti₉-P"},{"angle":48.0,"intensity":0.1,"series":"Eu₄Ti₉-P"},{"angle":48.2,"intensity":0.05,"series":"Eu₄Ti₉-P"},{"angle":48.45,"intensity":0.08,"series":"Eu₄Ti₉-P"},{"angle":48.7,"intensity":0.03,"series":"Eu₄Ti₉-P"},{"angle":48.9,"intensity":0.0,"series":"Eu₄Ti₉-P"},{"angle":49.05,"intensity":0.02,"series":"Eu₄Ti₉-P"},{"angle":49.2,"intensity":0.02,"series":"Eu₄Ti₉-P"},{"angle":49.4,"intensity":0.0,"series":"Eu₄Ti₉-P"},{"angle":49.6,"intensity":0.08,"series":"Eu₄Ti₉-P"},{"angle":49.75,"intensity":0.05,"series":"Eu₄Ti₉-P"},{"angle":49.9,"intensity":0.0,"series":"Eu₄Ti₉-P"},{"angle":50.0,"intensity":0.0,"series":"Eu₄Ti₉-P"}
    ]
  },
  "hconcat": [
    {
      "width": 431,
      "height": 516,
      "title": {"text": "a", "offset": -21, "dx": -86},
      "data": {"name": "panelA"},
      "mark": {"type": "line", "strokeWidth": 2},
      "encoding": {
        "x": {"field": "angle", "type": "quantitative", "title": "2θ (degree)",
          "scale": {"domain": [4.57, 50.42], "nice": false, "zero": false},
          "axis": {"values": [5,10,15,20,25,30,35,40,45,50], "labelExpr": "datum.value % 10 === 0 ? datum.label : ''", "tickSize": {"condition": {"test": "datum.value % 10 === 0", "value": 6}, "value": 4}, "labelPadding": 7, "titlePadding": 12, "titleX": 222}},
        "y": {"field": "intensity", "type": "quantitative", "title": "Inticity (a.u.)",
          "scale": {"domain": [-0.33, 5.32], "nice": false, "zero": false},
          "axis": {"values": [0,0.5,1,1.5,2,2.5,3,3.5,4,4.5,5], "labels": false, "tickSize": {"condition": {"test": "datum.value % 1 === 0", "value": 6}, "value": 3}, "titleFontSize": 36, "titlePadding": 16}},
        "color": {"field": "series", "type": "nominal",
          "scale": {"domain": ["Simulation", "Eu₄Ti₉-H"], "range": ["#e8383c", "#000000"]},
          "legend": {"legendX": 264, "legendY": 23.5}}
      }
    },
    {
      "width": 431,
      "height": 516,
      "title": {"text": "b", "offset": -33, "dx": -92},
      "data": {"name": "panelB"},
      "mark": {"type": "line", "strokeWidth": 2},
      "encoding": {
        "x": {"field": "angle", "type": "quantitative", "title": "2θ (degree)",
          "scale": {"domain": [4.45, 50.42], "nice": false, "zero": false},
          "axis": {"values": [5,10,15,20,25,30,35,40,45,50], "labelExpr": "datum.value % 10 === 0 ? datum.label : ''", "tickSize": {"condition": {"test": "datum.value % 10 === 0", "value": 6}, "value": 4}, "labelPadding": 7, "titlePadding": 12, "titleX": 240}},
        "y": {"field": "intensity", "type": "quantitative", "title": "Inticity (a.u.)",
          "scale": {"domain": [-0.51, 7.48], "nice": false, "zero": false},
          "axis": {"values": [-0.5,0,0.5,1,1.5,2,2.5,3,3.5,4,4.5,5,5.5,6,6.5,7], "labels": false, "tickSize": {"condition": {"test": "datum.value % 1 === 0", "value": 6}, "value": 3}, "titleFontSize": 36, "titlePadding": 22}},
        "color": {"field": "series", "type": "nominal",
          "scale": {"domain": ["Simulation", "Eu₄Ti₉-P"], "range": ["#e8383c", "#000000"]},
          "legend": {"legendX": 262, "legendY": 18.5}}
      }
    }
  ],
  "resolve": {"scale": {"color": "independent"}}
}
